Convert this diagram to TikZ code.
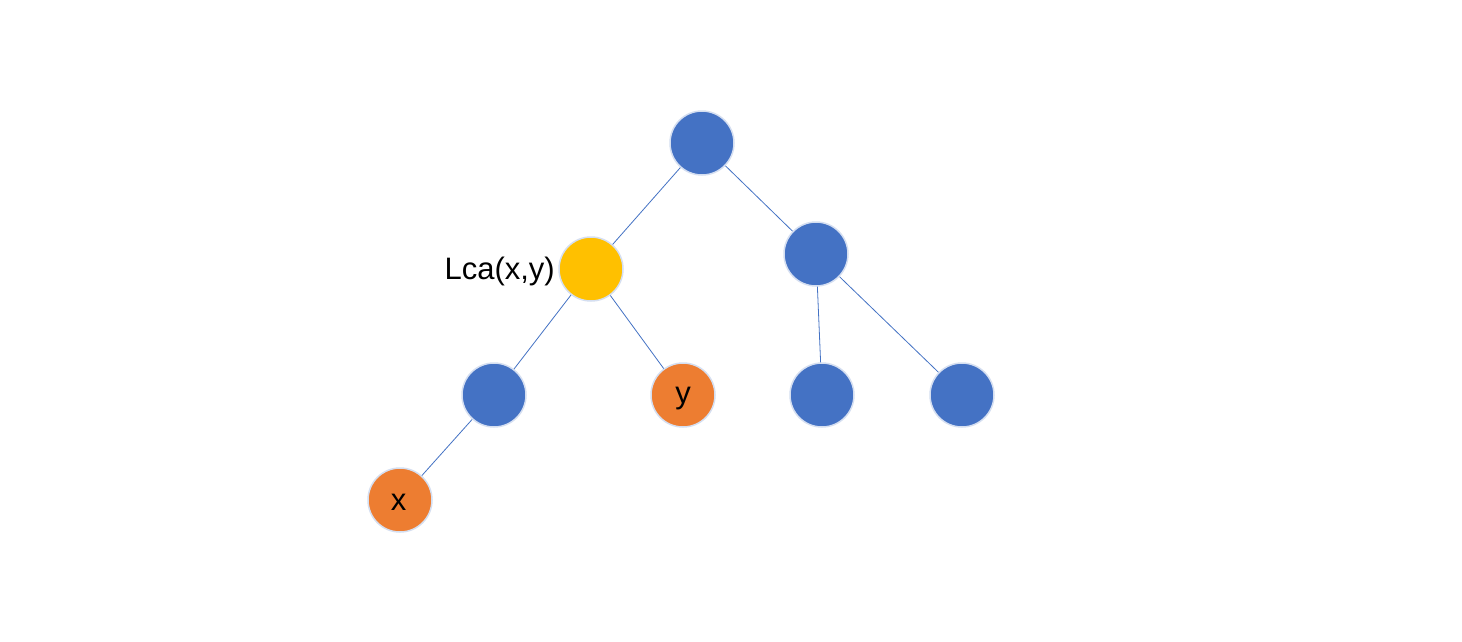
\documentclass[tikz,border=0pt]{standalone}
\usepackage{fontspec}
\setmainfont{Liberation Sans}
\definecolor{nblue}{HTML}{4472C4}
\definecolor{norange}{HTML}{ED7D31}
\definecolor{nyellow}{HTML}{FFC000}
\definecolor{nrim}{HTML}{D5DFF1}
\begin{document}
\begin{tikzpicture}[x=1pt,y=-1pt,
  vert/.style={circle,draw=nrim,line width=1.5pt,minimum size=64pt,inner sep=0pt,font=\fontsize{31}{31}\selectfont},
  bluev/.style={vert,fill=nblue},
  orangev/.style={vert,fill=norange},
  yellowv/.style={vert,fill=nyellow},
  edge/.style={draw=nblue,line width=0.8pt}]
\useasboundingbox (0,0) rectangle (1462,641);
\fill[white] (0,0) rectangle (1462,641);
\node[bluev] (r) at (702,143) {};
\node[yellowv] (l) at (591,269) {};
\node[bluev] (rr) at (816,254) {};
\node[bluev] (ll) at (494,395) {};
\node[orangev] (y) at (683,395) {\raisebox{-8pt}[0pt][0pt]{y}};
\node[bluev] (rl) at (822,395) {};
\node[bluev] (rrr) at (962,395) {};
\node[orangev] (x) at (400,500) {\raisebox{-10pt}[0pt][0pt]{\hspace*{-3pt}x}};
\node[anchor=base east,inner sep=0pt,font=\fontsize{31}{31}\selectfont] (lab) at (555,279) {Lca(x,y)};
\draw[edge] (r) -- (l);
\draw[edge] (r) -- (rr);
\draw[edge] (l) -- (ll);
\draw[edge] (l) -- (y);
\draw[edge] (rr) -- (rl);
\draw[edge] (rr) -- (rrr);
\draw[edge] (ll) -- (x);
\end{tikzpicture}
\end{document}
